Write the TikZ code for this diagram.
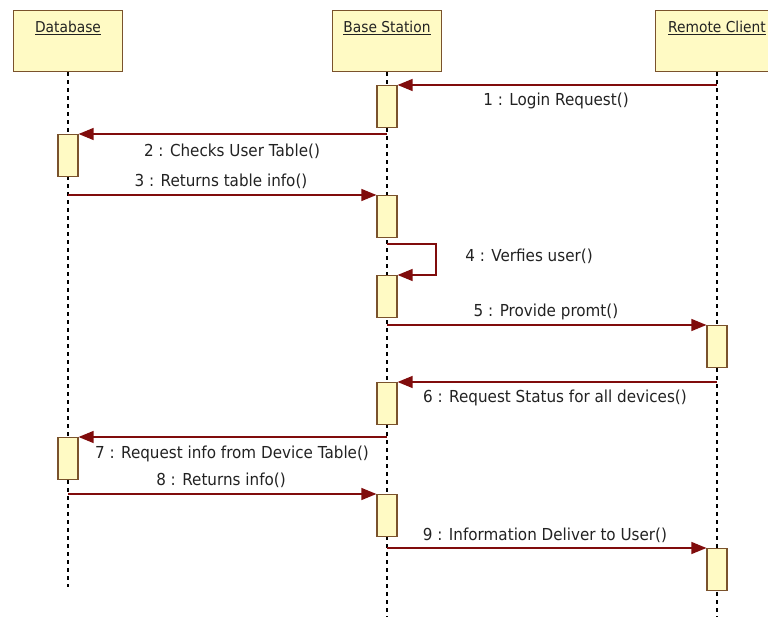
\documentclass[tikz,border=0pt]{standalone}
\usepackage{fontspec}
\setmainfont{DejaVu Sans}[FakeStretch=0.92]
\usetikzlibrary{arrows.meta}
\definecolor{umlfill}{RGB}{255,250,196}
\definecolor{umledge}{RGB}{122,82,44}
\definecolor{msgred}{RGB}{128,12,12}
\definecolor{txt}{RGB}{34,34,34}
\begin{document}
\begin{tikzpicture}[x=1pt,y=-1pt,
  head/.style={draw=umledge, fill=umlfill, line width=1.4pt, minimum width=109pt,
    inner xsep=3pt, inner ysep=0pt, anchor=north, text height=22pt, text depth=39pt,
    font=\fontsize{15}{18}\selectfont, text=txt},
  act/.style={draw=umledge, fill=umlfill, line width=1.2pt, minimum width=20pt,
    minimum height=42pt, inner sep=0pt, anchor=north},
  life/.style={draw=black, line width=1.3pt, dash pattern=on 4pt off 4pt},
  msg/.style={draw=msgred, line width=1.3pt, -{Triangle[length=15pt,width=12pt]}},
  lbl/.style={font=\fontsize{16.5}{20}\selectfont, text=txt, inner sep=0pt}
]
\clip (0,0) rectangle (768,617);
\path[use as bounding box] (0,0) rectangle (768,617);

% participants
\node[head] (db) at (68,10) {\underline{Database}};
\node[head] (bs) at (387,10) {\underline{Base Station}};
\node[head, minimum width=123pt] (rc) at (717,10) {\underline{Remote Client}};

% lifelines
\coordinate (dbEnd) at (68,587);
\coordinate (bsEnd) at (387,617);
\coordinate (rcEnd) at (717,617);
\draw[life] (db.south) -- (dbEnd);
\draw[life] (bs.south) -- (bsEnd);
\draw[life] (rc.south) -- (rcEnd);

% activation bars
\node[act] (bs1) at (387,85) {};
\node[act] (db1) at (68,134) {};
\node[act] (bs2) at (387,195) {};
\node[act] (bs3) at (387,275) {};
\node[act] (rc1) at (717,325) {};
\node[act] (bs4) at (387,382) {};
\node[act] (db2) at (68,437) {};
\node[act] (bs5) at (387,494) {};
\node[act] (rc2) at (717,548) {};

% message start points on the lifelines
\coordinate (s1) at (717,85);
\coordinate (s2) at (387,134);
\coordinate (s3) at (68,195);
\coordinate (s4) at (387,244);
\coordinate (s4r) at (436,244);
\coordinate (s5) at (387,325);
\coordinate (s6) at (717,382);
\coordinate (s7) at (387,437);
\coordinate (s8) at (68,494);
\coordinate (s9) at (387,548);

% messages
\draw[msg] (s1) -- (bs1.north east);
\draw[msg] (s2) -- (db1.north east);
\draw[msg] (s3) -- (bs2.north west);
\draw[msg] (s4) -- (s4r) |- (bs3.north east);
\draw[msg] (s5) -- (rc1.north west);
\draw[msg] (s6) -- (bs4.north east);
\draw[msg] (s7) -- (db2.north east);
\draw[msg] (s8) -- (bs5.north west);
\draw[msg] (s9) -- (rc2.north west);

% message labels
\node[lbl] (l1) at (556,101) {1 : Login Request()};
\node[lbl] (l2) at (232,151) {2 : Checks User Table()};
\node[lbl] (l3) at (221,181) {3 : Returns table info()};
\node[lbl] (l4) at (529,256) {4 : Verfies user()};
\node[lbl] (l5) at (546,312) {5 : Provide promt()};
\node[lbl] (l6) at (555,398) {6 : Request Status for all devices()};
\node[lbl] (l7) at (232,454) {7 : Request info from Device Table()};
\node[lbl] (l8) at (221,480) {8 : Returns info()};
\node[lbl] (l9) at (545,535) {9 : Information Deliver to User()};
\end{tikzpicture}
\end{document}
